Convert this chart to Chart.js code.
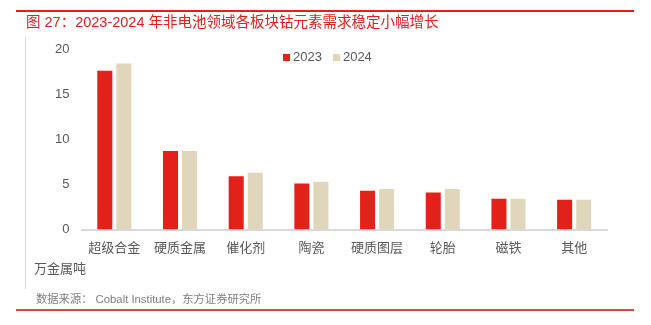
<!DOCTYPE html>
<html>
<head>
<meta charset="utf-8">
<script src="https://cdn.jsdelivr.net/npm/chart.js@4/dist/chart.umd.min.js"></script>
<style>
  body { margin: 0; background: #fff; font-family: "Liberation Sans", "Noto Sans CJK SC", sans-serif; }
  #wrap { position: relative; width: 651px; height: 325px; overflow: hidden; }
  #chart { position: absolute; left: 0; top: 0; }
  .rule { position: absolute; left: 16px; width: 618px; background: #e3201b; }
  #title { position: absolute; left: 26px; top: 13px; font-size: 14.5px; color: #e3201b; white-space: nowrap; line-height: 18px; }
  #vline { position: absolute; left: 25px; top: 36px; width: 1px; height: 253px; background: #d9d9d9; }
  #unit { position: absolute; left: 34px; top: 260px; font-size: 13px; color: #595959; line-height: 18px; }
  #source { position: absolute; left: 36px; top: 291px; font-size: 11.3px; color: #7f7f7f; line-height: 16px; white-space: nowrap; }
  #legend { position: absolute; left: 283px; top: 49px; font-size: 13px; color: #595959; line-height: 16px; white-space: nowrap; }
  #legend span.item { display: inline-block; margin-right: 11px; }
  #legend i { display: inline-block; width: 7px; height: 7px; margin-right: 3px; vertical-align: 0px; }
</style>
</head>
<body>
<div id="wrap">
  <canvas id="chart" width="651" height="325"></canvas>
  <div class="rule" style="top:10px;height:1.5px;"></div>
  <div id="title">图 27：2023-2024 年非电池领域各板块钴元素需求稳定小幅增长</div>
  <div id="vline"></div>
  <div id="legend"></div>
  <div id="unit">万金属吨</div>
  <div id="source">数据来源： Cobalt Institute，东方证券研究所</div>
  <div class="rule" style="top:308.5px;height:2.5px;background:#e8403a;"></div>
</div>
<script>
// 类别与数值（万金属吨）
const categories = ['超级合金', '硬质金属', '催化剂', '陶瓷', '硬质图层', '轮胎', '磁铁', '其他'];
const seriesNames = ['2023', '2024'];
const demand2023 = [17.6, 8.7, 5.9, 5.1, 4.3, 4.1, 3.4, 3.3];
const demand2024 = [18.4, 8.7, 6.3, 5.3, 4.5, 4.5, 3.4, 3.3];
const yTicks = [0, 5, 10, 15, 20];

const colors = ['#e3211b', '#e0d6bc'];
const textColor = '#595959';

Chart.defaults.font.family = '"Liberation Sans", "Noto Sans CJK SC", sans-serif';
Chart.defaults.font.size = 13;
Chart.defaults.color = textColor;

const chart = new Chart(document.getElementById('chart').getContext('2d'), {
  type: 'bar',
  data: {
    labels: categories,
    datasets: [
      { label: seriesNames[0], data: demand2023, backgroundColor: colors[0] },
      { label: seriesNames[1], data: demand2024, backgroundColor: colors[1] }
    ]
  },
  options: {
    responsive: false,
    animation: false,
    layout: { padding: { top: 49, right: 44, bottom: 0, left: 0 } },
    datasets: {
      bar: { categoryPercentage: 0.58, barPercentage: 0.79 }
    },
    plugins: {
      legend: { display: false },
      tooltip: { enabled: false }
    },
    scales: {
      x: {
        grid: { display: false, drawTicks: false },
        border: { color: '#d9d9d9', width: 2 },
        ticks: { padding: 11, color: textColor, font: { size: 13 }, maxRotation: 0 },
        afterFit: (s) => { s.height = 95.5; }
      },
      y: {
        min: yTicks[0],
        max: yTicks[yTicks.length - 1],
        afterBuildTicks: (s) => { s.ticks = yTicks.map(v => ({ value: v })); },
        grid: { display: false, drawTicks: false },
        border: { display: false },
        ticks: { padding: 12, color: textColor, font: { size: 13 } },
        afterFit: (s) => { s.width = 81.5; }
      }
    }
  }
});

// 图例
const legend = document.getElementById('legend');
legend.innerHTML = chart.data.datasets.map(ds =>
  `<span class="item"><i style="background:${ds.backgroundColor}"></i>${ds.label}</span>`
).join('');
</script>
</body>
</html>
